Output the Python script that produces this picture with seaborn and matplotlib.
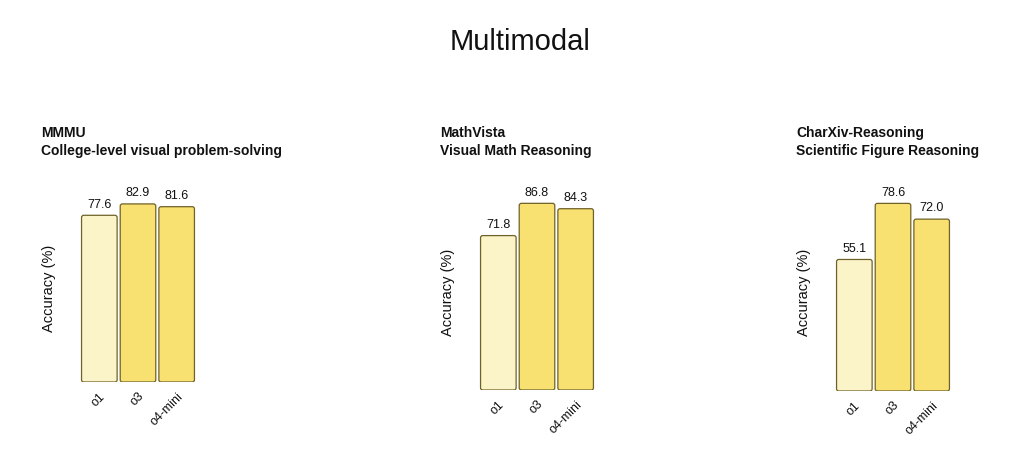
import matplotlib
matplotlib.use("Agg")
import matplotlib.pyplot as plt
from matplotlib.patches import FancyBboxPatch
import seaborn as sns
import pandas as pd

models = ["o1", "o3", "o4-mini"]
bench_names = ["MMMU", "MathVista", "CharXiv-Reasoning"]
bench_subtitles = ["College-level visual problem-solving", "Visual Math Reasoning", "Scientific Figure Reasoning"]
mmmu = [77.6, 82.9, 81.6]
mathvista = [71.8, 86.8, 84.3]
charxiv = [55.1, 78.6, 72.0]
values = [mmmu, mathvista, charxiv]

sns.set_theme(style="white")
plt.rcParams["font.family"] = ["Liberation Sans", "DejaVu Sans"]

light = "#FCF4C9"
dark = "#F8E071"
edge = "#6E6228"
palette = {"o1": light, "o3": dark, "o4-mini": dark}

W, H = 1028, 470
fig = plt.figure(figsize=(W / 100, H / 100), dpi=100)

# axes boxes in pixels: left, right, top, bottom
boxes = [(80, 196, 195, 382), (479, 595, 194, 390), (835, 951, 194, 391)]

fig.text(520 / W, 1 - 42 / H, "Multimodal", ha="center", va="center", fontsize=21, color="#111111")

for i, (l, r, t, b) in enumerate(boxes):
    ax = fig.add_axes([l / W, 1 - b / H, (r - l) / W, (b - t) / H])
    df = pd.DataFrame({"model": models, "acc": values[i]})
    sns.barplot(data=df, x="model", y="acc", hue="model", palette=palette, ax=ax,
                width=0.92, legend=False, linewidth=0, saturation=1)
    ax.set_xlim(-0.5, 2.5)
    ax.set_ylim(0, max(values[i]) * 1.05)
    fig.canvas.draw()
    # replace bars with rounded versions
    bars = list(ax.patches)
    p0 = ax.transData.transform((0, 0))
    p1 = ax.transData.transform((1, 1))
    pxx = p1[0] - p0[0]
    pxy = p1[1] - p0[1]
    rad_px = 2.2
    for bar in bars:
        x, y = bar.get_x(), bar.get_y()
        w, h = bar.get_width(), bar.get_height()
        fc = bar.get_facecolor()
        bar.remove()
        fb = FancyBboxPatch((x, y), w, h,
                            boxstyle=f"round,pad=0,rounding_size={rad_px / pxx}",
                            mutation_aspect=pxx / pxy,
                            facecolor=fc, edgecolor=edge, linewidth=0.9, zorder=2)
        ax.add_patch(fb)
        ax.text(x + w / 2, y + h + max(values[i]) * 0.025, f"{h:.1f}", ha="center", va="bottom",
                fontsize=9, color="#111111")
    for s in ax.spines.values():
        s.set_visible(False)
    ax.set_yticks([])
    ax.set_xlabel("")
    ax.set_ylabel("Accuracy (%)", fontsize=10.5, color="#111111", labelpad=17)
    ax.tick_params(axis="x", length=0, pad=6)
    for lab in ax.get_xticklabels():
        lab.set_rotation(45)
        lab.set_ha("right")
        lab.set_va("top")
        lab.set_rotation_mode("anchor")
        lab.set_fontsize(9)
        lab.set_color("#111111")
    tx = (l - 39) / W
    fig.text(tx, 1 - 133 / H, bench_names[i], ha="left", va="center", fontsize=10, fontweight="bold", color="#111111")
    fig.text(tx, 1 - 151 / H, bench_subtitles[i], ha="left", va="center", fontsize=10, fontweight="bold", color="#111111")

fig.savefig("out.png", dpi=100, facecolor="white")
